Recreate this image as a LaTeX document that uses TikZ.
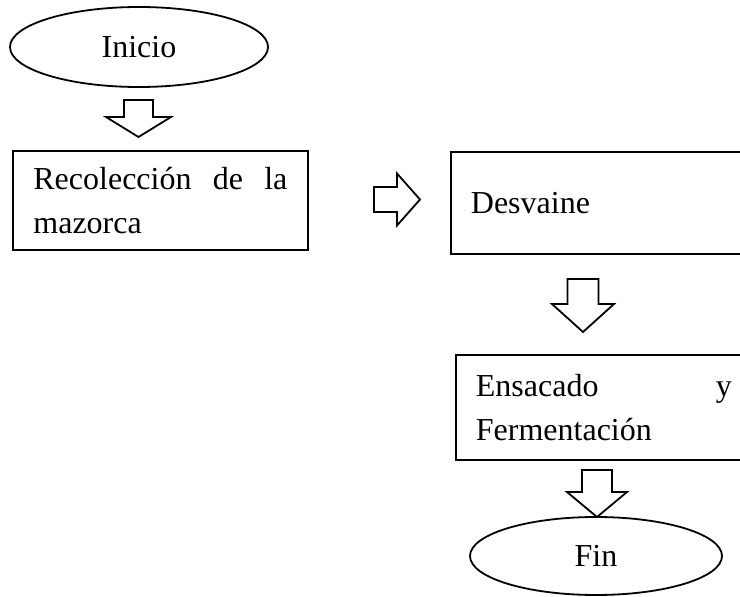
\documentclass[tikz,border=0pt]{standalone}
\usepackage{fontspec}
\setmainfont{Liberation Serif}
\usetikzlibrary{shapes.geometric}
\newcommand\downblock[6]{% cx, ytop, yshaftbottom, ytip, halfshaft, halfhead
  \draw[blockarr] (#1-#5,#2) -- (#1+#5,#2) -- (#1+#5,#3) -- (#1+#6,#3) -- (#1,#4)
    -- (#1-#6,#3) -- (#1-#5,#3) -- cycle;}
\begin{document}
\begin{tikzpicture}[x=1pt,y=-1pt,
  every node/.style={font=\fontsize{32}{44}\selectfont},
  term/.style={draw,ellipse,line width=1.8pt,inner sep=0pt,font=\fontsize{32}{44}\selectfont},
  procbox/.style={draw,rectangle,line width=1.8pt,anchor=west,inner xsep=20pt,inner ysep=0pt,
    align=justify,text width=256pt},
  blockarr/.style={draw,line width=1.8pt,line join=miter,fill=white}]
\useasboundingbox (0,0) rectangle (740,597);
\clip (0,0) rectangle (740,597);
\node[term,minimum width=258pt,minimum height=80pt] (ini) at (139,47) {Inicio};
\node[procbox,minimum height=99pt,text width=254pt,inner xsep=20.5pt] (rec) at (12,200.5)
  {Recolección\hfill de\hfill la\\mazorca};
\node[procbox,minimum height=102pt] (des) at (450,203) {Desvaine};
\node[procbox,minimum height=105pt] (ens) at (455,407.5)
  {Ensacado\hfill y\\Fermentación};
\node[term,minimum width=252pt,minimum height=78pt] (fin) at (596,556) {Fin};
% block arrows between the steps
\downblock{138.5}{100}{117}{137}{14.5}{32.5}
\draw[blockarr] (374,187) -- (397,187) -- (397,173.5) -- (420,199.5) -- (397,225.5)
  -- (397,212) -- (374,212) -- cycle;
\downblock{583}{279}{304}{332}{15.5}{31}
\downblock{597}{470}{492}{517}{15}{30}
\end{tikzpicture}
\end{document}
